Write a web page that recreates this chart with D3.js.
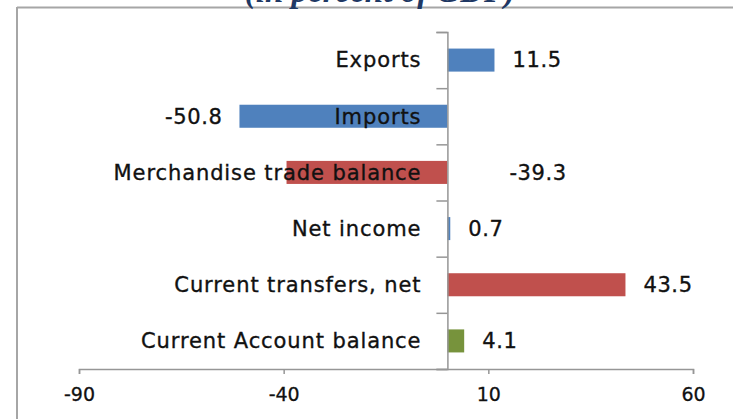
<!DOCTYPE html>
<html>
<head>
<meta charset="utf-8">
<script src="https://cdn.jsdelivr.net/npm/d3@7"></script>
<style>
  body { margin: 0; background: #fff; }
</style>
</head>
<body>
<script>
// data
var categories = ["Exports", "Imports", "Merchandise trade balance", "Net income", "Current transfers, net", "Current Account balance"];
var values = [11.5, -50.8, -39.3, 0.7, 43.5, 4.1];
var barColors = ["#4F81BD", "#4F81BD", "#C0504D", "#4F81BD", "#C0504D", "#77933C"];
var tickValues = [-90, -40, 10, 60];
var title = "(in percent of GDP)";

var W = 733, H = 419;

var svg = d3.select('body').append('svg')
    .attr('width', W)
    .attr('height', H);

var rows = categories.map(function(c, i) {
    return {name: c, value: values[i], color: barColors[i]};
});

// hyphen instead of unicode minus, like the original
function fmt(v, f) {
    return d3.format(f)(v).replace('\u2212', '-');
}

var x = d3.scaleLinear().domain([-90, 60]).range([79, 693]);
var y = d3.scaleBand().domain(categories).range([32, 369]).paddingInner(0.59).paddingOuter(0.295);

// outer border (top and left visible)
svg.append('line')
    .attr('x1', 17).attr('x2', W).attr('y1', 7.5).attr('y2', 7.5)
    .attr('stroke', '#a6a6a6').attr('stroke-width', 2);
svg.append('line')
    .attr('x1', 17).attr('x2', 17).attr('y1', 7).attr('y2', H)
    .attr('stroke', '#a6a6a6').attr('stroke-width', 2);

// title, clipped at top
svg.append('text')
    .attr('x', 380)
    .attr('y', 2)
    .attr('text-anchor', 'middle')
    .attr('font-family', 'Liberation Serif')
    .attr('font-style', 'italic')
    .attr('font-weight', 'bold')
    .attr('font-size', 33)
    .attr('fill', '#1f3864')
    .text(title);

// bars
svg.selectAll('rect.bar')
    .data(rows)
    .enter()
    .append('rect')
    .attr('class', 'bar')
    .attr('x', function(d) { return x(Math.min(0, d.value)); })
    .attr('y', function(d) { return y(d.name); })
    .attr('width', function(d) { return Math.abs(x(d.value) - x(0)); })
    .attr('height', y.bandwidth())
    .attr('fill', function(d) { return d.color; });

// x axis
var xAxis = svg.append('g')
    .attr('transform', 'translate(0,369)')
    .call(d3.axisBottom(x).tickValues(tickValues).tickSize(5).tickPadding(14)
        .tickFormat(function(d) { return fmt(d, 'd'); }));
xAxis.select('.domain').attr('stroke', '#969696').attr('stroke-width', 1.5);
xAxis.selectAll('.tick line').attr('stroke', '#969696').attr('stroke-width', 1.5);
xAxis.selectAll('.tick text')
    .attr('font-family', 'DejaVu Sans')
    .attr('font-size', 19)
    .attr('stroke', '#111')
    .attr('stroke-width', 0.3)
    .attr('fill', '#111');

// y axis at zero
var yAxisScale = d3.scaleLinear().domain([0, categories.length]).range([32, 369]);
var yAxis = svg.append('g')
    .attr('transform', 'translate(' + x(0) + ',0)')
    .call(d3.axisLeft(yAxisScale).ticks(categories.length).tickSize(11).tickSizeOuter(11).tickFormat(''));
yAxis.select('.domain').attr('stroke', '#969696').attr('stroke-width', 1.5);
yAxis.selectAll('.tick line').attr('stroke', '#969696').attr('stroke-width', 1.5);

// category labels
svg.selectAll('text.cat')
    .data(rows)
    .enter()
    .append('text')
    .attr('class', 'cat')
    .attr('x', x(0) - 26)
    .attr('y', function(d) { return y(d.name) + y.bandwidth() / 2; })
    .attr('dy', '0.35em')
    .attr('text-anchor', 'end')
    .attr('font-family', 'DejaVu Sans')
    .attr('font-size', 21)
    .attr('letter-spacing', 0.9)
    .attr('stroke', '#111')
    .attr('stroke-width', 0.35)
    .attr('fill', '#111')
    .text(function(d) { return d.name; });

// value labels
svg.selectAll('text.val')
    .data(rows)
    .enter()
    .append('text')
    .attr('class', 'val')
    .attr('x', function(d) {
        if (d.name == "Merchandise trade balance") return x(0) + 62;
        return d.value >= 0 ? x(d.value) + 18 : x(d.value) - 17;
    })
    .attr('y', function(d) { return y(d.name) + y.bandwidth() / 2; })
    .attr('dy', '0.35em')
    .attr('text-anchor', function(d) {
        return (d.value >= 0 || d.name == "Merchandise trade balance") ? 'start' : 'end';
    })
    .attr('font-family', 'DejaVu Sans')
    .attr('font-size', 21)
    .attr('letter-spacing', 0.6)
    .attr('stroke', '#111')
    .attr('stroke-width', 0.35)
    .attr('fill', '#111')
    .text(function(d) { return fmt(d.value, '.1f'); });
</script>
</body>
</html>
